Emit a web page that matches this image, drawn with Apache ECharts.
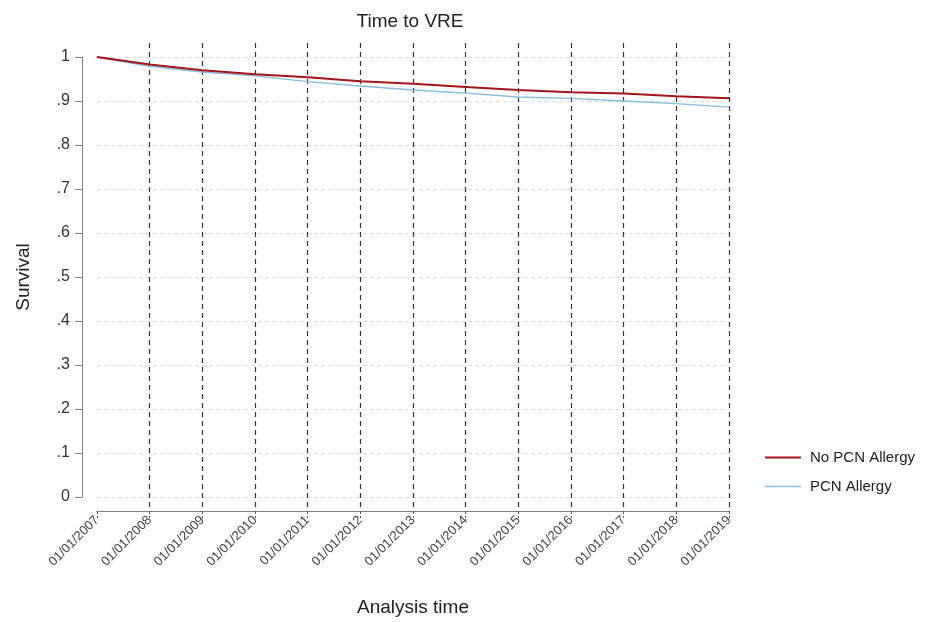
<!DOCTYPE html>
<html>
<head>
<meta charset="utf-8">
<script src="https://cdn.jsdelivr.net/npm/echarts@6/dist/echarts.min.js"></script>
<style>html,body{margin:0;padding:0;background:#fff}#c{width:942px;height:622px}</style>
</head>
<body>
<div id="c"></div>
<script>
var years = [2007, 2008, 2009, 2010, 2011, 2012, 2013, 2014, 2015, 2016, 2017, 2018, 2019];
var noAllergy = [1.000, 0.983, 0.970, 0.961, 0.954, 0.945, 0.939, 0.932, 0.925, 0.920, 0.917, 0.911, 0.906];
var allergy   = [1.000, 0.979, 0.966, 0.957, 0.944, 0.934, 0.925, 0.918, 0.909, 0.906, 0.900, 0.894, 0.886];
var seriesNames = ['No PCN Allergy', 'PCN Allergy'];
var seriesColors = ['#a3141c', '#86bcdc'];
var titleText = 'Time to VRE';
var xTitle = 'Analysis time';
var yTitle = 'Survival';

function pairs(vals){ return years.map(function(y,i){ return [y, vals[i]]; }); }
var font = 'Liberation Sans, Arial, sans-serif';

var chart = echarts.init(document.getElementById('c'), null, {renderer:'canvas'});
chart.setOption({
  animation: false,
  backgroundColor: '#fff',
  title: {
    text: titleText, left: 405, top: 7, textAlign: 'center',
    textStyle: {fontFamily: font, fontWeight: 'normal', fontSize: 19, color: '#222'}
  },
  legend: {
    orient: 'vertical', left: 760, top: 445, itemWidth: 36, itemHeight: 14, itemGap: 14,
    data: [
      {name: seriesNames[0], icon: 'path://M0,0h36v2h-36z', itemStyle: {color: seriesColors[0]}},
      {name: seriesNames[1], icon: 'path://M0,0h36v1.4h-36z', itemStyle: {color: seriesColors[1]}}
    ],
    textStyle: {fontFamily: font, fontSize: 15, color: '#222', padding:[0,0,0,4]}
  },
  grid: [
    {left: 97, right: 213, top: 57, bottom: 125, containLabel: false, outerBoundsMode: 'none'},
    {left: 97, right: 213, top: 43, bottom: 111, containLabel: false, outerBoundsMode: 'none'}
  ],
  xAxis: [
    {
      gridIndex: 0, type: 'value', min: 2007, max: 2019, interval: 1,
      axisLine: {show: false}, axisTick: {show: false}, axisLabel: {show: false},
      splitLine: {show: false}
    },
    {
      gridIndex: 1, type: 'value', min: 2007, max: 2019, interval: 1,
      axisLine: {show: true, onZero: false, lineStyle: {color: '#808080', width: 1}},
      axisTick: {show: true, length: 7, lineStyle: {color: '#555', type: [3, 2]}},
      axisLabel: {rotate: 45, margin: 7, fontFamily: font, fontSize: 13, color: '#444',
        formatter: function(v){ return '01/01/' + v; }},
      splitLine: {show: true, showMinLine: false, showMaxLine: true,
        lineStyle: {color: '#333', type: [5, 4], width: 1.2}},
      name: xTitle, nameLocation: 'middle', nameGap: 87,
      nameTextStyle: {fontFamily: font, fontSize: 19, color: '#222'}
    }
  ],
  yAxis: [
    {
      gridIndex: 0, type: 'value', min: 0, max: 1, interval: 0.1, offset: 15,
      axisLine: {show: true, onZero: false, lineStyle: {color: '#808080', width: 1}},
      axisTick: {show: true, length: 7, lineStyle: {color: '#808080'}},
      axisLabel: {margin: 12, fontFamily: font, fontSize: 16, color: '#333',
        formatter: function(v){
          if (Math.abs(v) < 1e-9) return '0';
          if (Math.abs(v - 1) < 1e-9) return '1';
          return '.' + Math.round(v * 10);
        }},
      splitLine: {show: true, lineStyle: {color: '#dcdcdc', type: [4, 3], width: 1}},
      name: yTitle, nameLocation: 'middle', nameGap: 49, nameRotate: 90,
      nameTextStyle: {fontFamily: font, fontSize: 19, color: '#222'}
    },
    {
      gridIndex: 1, type: 'value', min: 0, max: 1,
      axisLine: {show: false}, axisTick: {show: false}, axisLabel: {show: false},
      splitLine: {show: false}
    }
  ],
  series: [
    {
      name: seriesNames[1], type: 'line', xAxisIndex: 0, yAxisIndex: 0,
      data: pairs(allergy), showSymbol: false, symbol: 'none', z: 3,
      lineStyle: {color: seriesColors[1], width: 1.4}, itemStyle: {color: seriesColors[1]}
    },
    {
      name: seriesNames[0], type: 'line', xAxisIndex: 0, yAxisIndex: 0,
      data: pairs(noAllergy), showSymbol: false, symbol: 'none', z: 4,
      lineStyle: {color: seriesColors[0], width: 2}, itemStyle: {color: seriesColors[0]}
    }
  ]
});
</script>
</body>
</html>
